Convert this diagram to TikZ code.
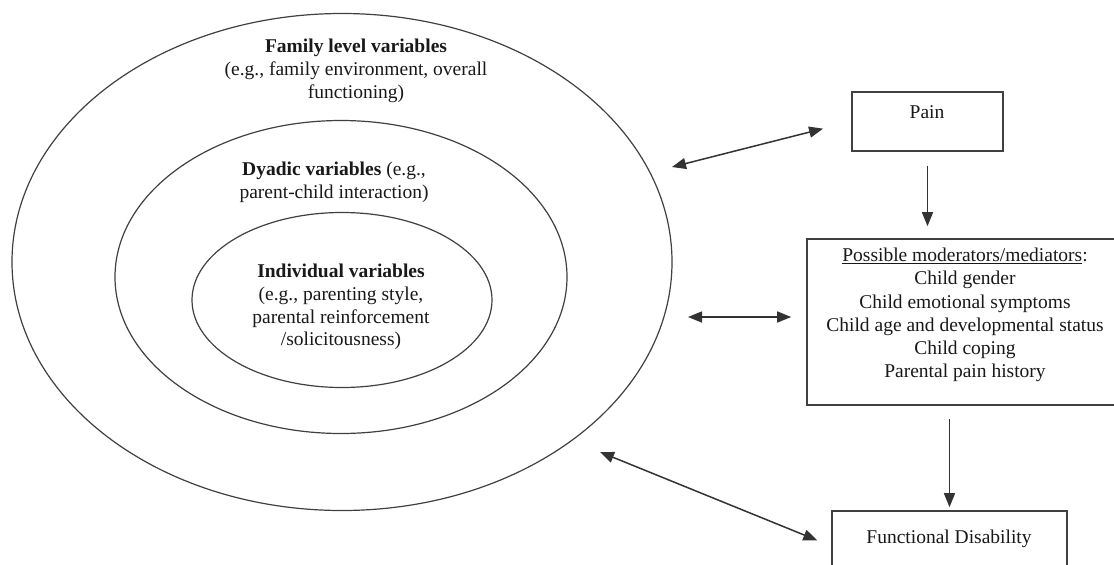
\documentclass[tikz,border=0pt]{standalone}
\usepackage{fontspec}
\setmainfont{Liberation Serif}
\usetikzlibrary{arrows.meta,shapes.geometric,calc}
\begin{document}
\begin{tikzpicture}[x=1pt,y=-1pt,
  ring/.style={ellipse,draw=black!75,line width=1.2pt,inner sep=0pt},
  boxnode/.style={draw=black!75,line width=1.6pt,rectangle,inner sep=0pt},
  txt/.style={align=center,font=\fontsize{19.5}{22.8}\selectfont,text=black!90,inner sep=0pt},
  oneway/.style={-{Triangle[length=14pt,width=11pt]},line width=1.5pt,draw=black!80},
  twoway/.style={{Triangle[length=14pt,width=11pt]}-{Triangle[length=14pt,width=11pt]},line width=1.5pt,draw=black!80}]
\useasboundingbox (0,0) rectangle (1114,565);
\fill[white] (0,0) rectangle (1114,565);

% nested ellipses
\node[ring,minimum width=660pt,minimum height=497pt] (outer) at (342,262) {};
\node[ring,minimum width=452pt,minimum height=313pt] (middle) at (341,277) {};
\node[ring,minimum width=300pt,minimum height=175pt] (inner) at (342,300) {};

\node[txt] (famtxt) at (356,71) {\textbf{Family level variables}\\(e.g., family environment, overall\\functioning)};
\node[txt] (dyadtxt) at (334,182) {\textbf{Dyadic variables} (e.g.,\\parent-child interaction)};
\node[txt] (indtxt) at (341,307) {\textbf{Individual variables}\\(e.g., parenting style,\\parental reinforcement\\/solicitousness)};

% boxes
\node[boxnode,minimum width=151pt,minimum height=59pt] (pain) at (927.5,121.5) {};
\node[txt] (paintxt) at (927,112) {Pain};

\node[boxnode,minimum width=316pt,minimum height=166pt] (mod) at (965,322) {};
\node[txt,font=\fontsize{19.5}{23.2}\selectfont] (modtxt) at (965,315) {\underline{Possible moderators/mediators}:\\Child gender\\Child emotional symptoms\\Child age and developmental status\\Child coping\\Parental pain history};

\node[boxnode,minimum width=235pt,minimum height=70pt] (fd) at (949.5,546) {};
\node[txt] (fdtxt) at (949,539) {Functional Disability};

% connectors
\coordinate (p1) at (672,167);
\coordinate (p2) at (688,317);
\coordinate (p3) at (600,452);
\draw[twoway,shorten >=29pt] (p1) -- (pain.west);
\draw[twoway,shorten >=15pt] (p2) -- (p2 -| mod.west);
\draw[twoway,shorten >=15pt] (p3) -- (fd.west);
\draw[oneway,shorten <=14pt,shorten >=12pt] (pain.south) -- (pain.south |- mod.north);
\draw[oneway,shorten <=13pt,shorten >=3pt] (fd.north |- mod.south) -- (fd.north);
\end{tikzpicture}
\end{document}
